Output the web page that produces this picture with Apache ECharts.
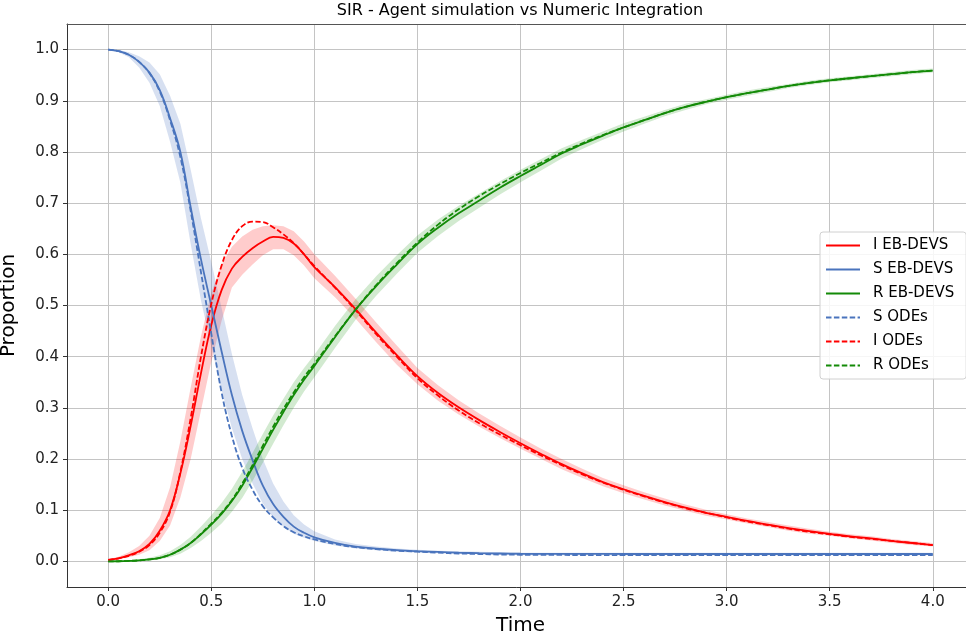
<!DOCTYPE html>
<html>
<head>
<meta charset="utf-8">
<script src="https://cdn.jsdelivr.net/npm/echarts@6/dist/echarts.min.js"></script>
<style>html,body{margin:0;padding:0;background:#fff;}#c{width:966px;height:639px;}</style>
</head>
<body>
<div id="c"></div>
<script>
const T = [0,0.05,0.1,0.15,0.2,0.25,0.3,0.35,0.4,0.45,0.5,0.55,0.6,0.65,0.7,0.75,0.8,0.85,0.9,0.95,1.0,1.1,1.2,1.3,1.4,1.5,1.6,1.7,1.8,1.9,2.0,2.1,2.2,2.3,2.4,2.5,2.6,2.7,2.8,2.9,3.0,3.1,3.2,3.3,3.4,3.5,3.6,3.7,3.8,3.9,4.0];

const S_EB = [1.0,0.997,0.99,0.976,0.955,0.921,0.866,0.80,0.692,0.59,0.50,0.41,0.325,0.255,0.198,0.148,0.112,0.087,0.068,0.056,0.047,0.036,0.029,0.025,0.022,0.02,0.0185,0.017,0.016,0.0155,0.015,0.0148,0.0147,0.0146,0.0146,0.0145,0.0145,0.0145,0.0145,0.0145,0.0145,0.0145,0.0145,0.0145,0.0145,0.0145,0.0145,0.0145,0.0145,0.0145,0.0145];
const S_UP = [1.0,0.999,0.995,0.987,0.975,0.952,0.91,0.855,0.765,0.67,0.585,0.495,0.405,0.325,0.26,0.2,0.152,0.117,0.09,0.072,0.059,0.043,0.034,0.029,0.025,0.023,0.021,0.02,0.019,0.018,0.017,0.017,0.017,0.017,0.017,0.017,0.017,0.017,0.017,0.017,0.017,0.017,0.017,0.017,0.017,0.017,0.017,0.017,0.017,0.017,0.017];
const S_LO = [1.0,0.995,0.985,0.965,0.935,0.89,0.82,0.74,0.62,0.51,0.42,0.335,0.26,0.2,0.152,0.113,0.086,0.067,0.054,0.046,0.04,0.031,0.025,0.022,0.019,0.017,0.016,0.015,0.014,0.013,0.012,0.012,0.012,0.012,0.012,0.012,0.012,0.012,0.012,0.012,0.012,0.012,0.012,0.012,0.012,0.012,0.012,0.012,0.012,0.012,0.012];
const S_ODE = [1.0,0.997,0.99,0.976,0.954,0.918,0.862,0.79,0.685,0.565,0.445,0.33,0.245,0.183,0.14,0.108,0.086,0.069,0.057,0.049,0.043,0.034,0.028,0.024,0.021,0.019,0.017,0.0155,0.0145,0.0135,0.013,0.0128,0.0126,0.0125,0.0124,0.0123,0.0123,0.0123,0.0123,0.0123,0.0123,0.0123,0.0123,0.0123,0.0123,0.0123,0.0123,0.0123,0.0123,0.0123,0.0123];

const I_EB = [0.003,0.006,0.012,0.02,0.034,0.06,0.10,0.172,0.265,0.368,0.462,0.53,0.572,0.595,0.612,0.625,0.634,0.632,0.621,0.6,0.575,0.536,0.493,0.447,0.403,0.362,0.329,0.301,0.276,0.253,0.231,0.21,0.19,0.172,0.155,0.141,0.128,0.116,0.105,0.095,0.087,0.079,0.072,0.065,0.059,0.054,0.049,0.045,0.04,0.036,0.032];
const I_UP = [0.004,0.009,0.018,0.03,0.05,0.085,0.145,0.235,0.34,0.44,0.525,0.58,0.615,0.635,0.648,0.655,0.657,0.655,0.645,0.625,0.6,0.558,0.513,0.467,0.422,0.378,0.344,0.315,0.289,0.265,0.242,0.22,0.2,0.181,0.163,0.149,0.135,0.123,0.111,0.101,0.092,0.084,0.077,0.07,0.064,0.058,0.053,0.049,0.044,0.04,0.036];
const I_LO = [0.002,0.004,0.008,0.013,0.022,0.04,0.07,0.125,0.2,0.295,0.39,0.47,0.535,0.56,0.58,0.598,0.61,0.61,0.598,0.578,0.553,0.516,0.474,0.428,0.384,0.346,0.314,0.287,0.263,0.241,0.22,0.2,0.18,0.163,0.147,0.133,0.121,0.109,0.099,0.089,0.082,0.074,0.067,0.06,0.054,0.05,0.045,0.041,0.036,0.032,0.029];
const I_ODE = [0.003,0.006,0.011,0.019,0.032,0.056,0.097,0.175,0.28,0.4,0.503,0.578,0.628,0.655,0.664,0.663,0.653,0.639,0.622,0.6,0.577,0.535,0.491,0.444,0.4,0.358,0.324,0.295,0.27,0.248,0.227,0.207,0.188,0.17,0.154,0.14,0.127,0.115,0.104,0.095,0.086,0.078,0.071,0.064,0.058,0.053,0.048,0.044,0.04,0.036,0.032];

const R_EB = [0,0.0003,0.001,0.002,0.004,0.007,0.013,0.023,0.036,0.053,0.072,0.093,0.118,0.148,0.183,0.22,0.257,0.292,0.325,0.355,0.382,0.438,0.492,0.538,0.58,0.62,0.652,0.68,0.705,0.73,0.753,0.775,0.797,0.815,0.832,0.848,0.862,0.876,0.888,0.898,0.907,0.915,0.922,0.929,0.935,0.94,0.944,0.948,0.952,0.956,0.959];
const R_UP = [0,0.001,0.002,0.004,0.007,0.012,0.02,0.032,0.048,0.068,0.09,0.114,0.142,0.175,0.212,0.249,0.285,0.318,0.35,0.378,0.404,0.46,0.512,0.557,0.598,0.637,0.668,0.695,0.719,0.743,0.765,0.786,0.807,0.824,0.84,0.856,0.869,0.882,0.894,0.903,0.912,0.92,0.927,0.933,0.939,0.944,0.948,0.952,0.956,0.96,0.963];
const R_LO = [0,0,0,0.001,0.002,0.004,0.008,0.015,0.026,0.04,0.056,0.074,0.097,0.124,0.157,0.193,0.23,0.266,0.3,0.332,0.36,0.417,0.472,0.519,0.562,0.603,0.636,0.665,0.691,0.717,0.741,0.764,0.787,0.806,0.824,0.84,0.855,0.87,0.882,0.893,0.902,0.91,0.917,0.925,0.931,0.936,0.94,0.944,0.948,0.952,0.955];
const R_ODE = [0,0.0003,0.001,0.002,0.004,0.007,0.013,0.023,0.036,0.054,0.074,0.095,0.12,0.152,0.188,0.226,0.263,0.298,0.33,0.36,0.386,0.44,0.492,0.54,0.583,0.623,0.658,0.688,0.714,0.737,0.759,0.779,0.799,0.817,0.833,0.848,0.862,0.876,0.888,0.898,0.907,0.915,0.922,0.929,0.935,0.94,0.944,0.948,0.952,0.956,0.959];

const X_TICKS = [0,0.5,1.0,1.5,2.0,2.5,3.0,3.5,4.0];
const Y_TICKS = [0,0.1,0.2,0.3,0.4,0.5,0.6,0.7,0.8,0.9,1.0];
const LEGEND_ORDER = ['I EB-DEVS','S EB-DEVS','R EB-DEVS','S ODEs','I ODEs','R ODEs'];
const TITLE = 'SIR - Agent simulation vs Numeric Integration';

const RED = '#ff0000', BLUE = '#4a74bd', GREEN = '#138a07';
const FONT = 'DejaVu Sans';

function pairs(vals){ return T.map((t,i)=>[t, vals[i]]); }

function band(name, up, lo, fill){
  return {
    type:'custom', name:name, silent:true, z:1,
    data:[[0,0]],
    renderItem:function(params, api){
      const pts=[];
      for(let i=0;i<T.length;i++) pts.push(api.coord([T[i], up[i]]));
      for(let i=T.length-1;i>=0;i--) pts.push(api.coord([T[i], lo[i]]));
      return {type:'polygon', shape:{points:pts}, style:{fill:fill}};
    }
  };
}
function line(name, vals, color, dashed){
  return {
    type:'line', name:name, data:pairs(vals), symbol:'none', showSymbol:false,
    smooth:0.4, z: dashed?4:3,
    lineStyle:{color:color, width:1.8, type: dashed?[5.5,2.4]:'solid'},
    itemStyle:{color:color}, emphasis:{disabled:true}
  };
}

const chart = echarts.init(document.getElementById('c'), null, {renderer:'canvas'});
chart.setOption({
  animation:false,
  backgroundColor:'#ffffff',
  textStyle:{fontFamily:FONT},
  graphic:[{type:'text', x:520, y:3, style:{text:TITLE, fill:'#000', font:'16px "DejaVu Sans"', textAlign:'center', textVerticalAlign:'top'}}],
  grid:{left:67, top:24, right:-8, bottom:52, outerBoundsMode:'none', containLabel:false, show:false},
  xAxis:[{
    type:'value', min:-0.2, max:4.2,
    name:'Time', nameLocation:'middle', nameGap:29,
    nameTextStyle:{fontSize:20, color:'#000', fontFamily:FONT},
    axisLine:{show:true, onZero:false, lineStyle:{color:'#333', width:1}},
    axisTick:{show:true, length:4, lineStyle:{color:'#333'}, customValues:X_TICKS},
    axisLabel:{customValues:X_TICKS, fontSize:15, color:'#222', fontFamily:FONT, margin:8, formatter:v=>v.toFixed(1)},
    splitLine:{show:true, lineStyle:{color:'#c4c4c4', width:1}}
  },{
    type:'value', min:-0.2, max:4.2, position:'top',
    axisLine:{show:true, onZero:false, lineStyle:{color:'#555', width:1}},
    axisTick:{show:false}, axisLabel:{show:false}, splitLine:{show:false}
  }],
  yAxis:{
    type:'value', min:-0.05, max:1.05,
    name:'Proportion', nameLocation:'middle', nameGap:48,
    nameTextStyle:{fontSize:20, color:'#000', fontFamily:FONT},
    axisLine:{show:true, onZero:false, lineStyle:{color:'#333', width:1}},
    axisTick:{show:true, length:4, lineStyle:{color:'#333'}, customValues:Y_TICKS},
    axisLabel:{customValues:Y_TICKS, fontSize:15, color:'#222', fontFamily:FONT, margin:8, formatter:v=>v.toFixed(1)},
    splitLine:{show:true, lineStyle:{color:'#c4c4c4', width:1}}
  },
  legend:{
    data:LEGEND_ORDER, orient:'vertical', left:820, top:232,
    itemWidth:34, itemHeight:14, itemGap:9,
    padding:[6,12,6,5],
    itemStyle:{opacity:0},
    backgroundColor:'rgba(255,255,255,0.85)', borderColor:'#d0d0d0', borderWidth:1, borderRadius:3,
    textStyle:{fontSize:15, color:'#000', fontFamily:FONT, padding:[0,0,0,8]},
    selectedMode:false
  },
  series:[
    band('I band', I_UP, I_LO, 'rgba(255,0,0,0.2)'),
    band('S band', S_UP, S_LO, 'rgba(74,116,189,0.22)'),
    band('R band', R_UP, R_LO, 'rgba(30,150,20,0.2)'),
    line('I EB-DEVS', I_EB, RED, false),
    line('S EB-DEVS', S_EB, BLUE, false),
    line('R EB-DEVS', R_EB, GREEN, false),
    line('S ODEs', S_ODE, BLUE, true),
    line('I ODEs', I_ODE, RED, true),
    line('R ODEs', R_ODE, GREEN, true)
  ]
});
</script>
</body>
</html>
